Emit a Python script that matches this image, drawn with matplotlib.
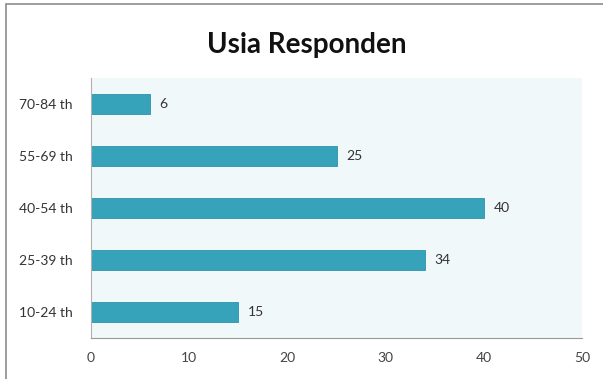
import matplotlib.pyplot as plt
from matplotlib.patches import Rectangle

# Data
categories = ["10-24 th", "25-39 th", "40-54 th", "55-69 th", "70-84 th"]
values = [15, 34, 40, 25, 6]
xticks = [0, 10, 20, 30, 40, 50]

plt.rcParams['font.family'] = ['Lato', 'DejaVu Sans']

fig = plt.figure(figsize=(6.03, 3.79), dpi=100)
ax = fig.add_axes([91/603, 41/379, 491/603, 260/379])

# faint frame around the whole chart
fig.patches.append(Rectangle((6/603, -0.05), 1.2, 1 - 4/379 + 0.05, transform=fig.transFigure,
                             fill=False, edgecolor="#8c8c8c", linewidth=1.2))

ax.set_facecolor("#f1f8fa")
bars = ax.barh(range(len(categories)), values, height=0.4, color="#36a3bb",
               edgecolor="#2b93ab", linewidth=0.6)

for i, v in enumerate(values):
    ax.text(v + 1.0, i, str(v), va="center", ha="left", fontsize=10, color="#333333")

ax.set_xlim(0, 50)
ax.set_ylim(-0.5, len(categories) - 0.5)
ax.set_yticks(range(len(categories)))
ax.set_yticklabels(categories, fontsize=10, color="#333333")
ax.set_xticks(xticks)
ax.set_xticklabels([str(t) for t in xticks], fontsize=10, color="#444444")
ax.tick_params(axis="y", length=0, pad=13)
ax.tick_params(axis="x", length=0, pad=10)

for s in ["top", "right"]:
    ax.spines[s].set_visible(False)
ax.spines["left"].set_color("#b0b0b0")
ax.spines["bottom"].set_color("#9a9a9a")

fig.text(0.508, 0.882, "Usia Responden", ha="center", va="center",
         fontsize=20, fontweight="bold", color="#111111")

fig.savefig("out.png", dpi=100)
